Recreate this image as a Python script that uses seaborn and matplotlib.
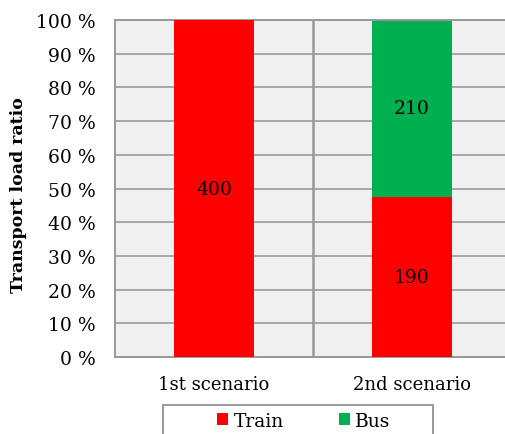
import matplotlib
matplotlib.use("Agg")
import matplotlib.pyplot as plt
from matplotlib.patches import Rectangle
import seaborn as sns
import pandas as pd
import numpy as np

scenarios = ["1st scenario", "2nd scenario"]
train = [400, 190]
bus = [0, 210]
yticks = [0, 10, 20, 30, 40, 50, 60, 70, 80, 90, 100]

sns.set_style("white")
plt.rcParams["font.family"] = ["DejaVu Serif"]
plt.rcParams["text.color"] = "black"
plt.rcParams["xtick.color"] = "black"
plt.rcParams["ytick.color"] = "black"

totals = np.array(train) + np.array(bus)
train_pct = np.array(train) / totals * 100
bus_pct = np.array(bus) / totals * 100
df = pd.DataFrame({"scenario": scenarios, "train": train_pct, "total": train_pct + bus_pct})

fig = plt.figure(figsize=(5.05, 4.35), dpi=100)
ax = fig.add_axes([0.2277, 0.177, 0.7843, 0.7747])
ax.set_facecolor("#F0F0F0")

grid_c = "#A6A6A6"
for t in yticks:
    ax.axhline(t, color=grid_c, lw=1.4, zorder=0)
ax.axvline(0.5, color="#999999", lw=1.8, zorder=0)

sns.barplot(data=df, x="scenario", y="total", color="#00B050", width=0.4,
            saturation=1, linewidth=0, ax=ax, label="Bus", zorder=2)
sns.barplot(data=df, x="scenario", y="train", color="#FF0000", width=0.4,
            saturation=1, linewidth=0, ax=ax, label="Train", zorder=3)

fs = 13.5
for i in range(len(scenarios)):
    ax.text(i, train_pct[i] / 2, str(train[i]), ha="center", va="center",
            fontsize=fs, color="black", zorder=5)
    if bus[i] > 0:
        ax.text(i, train_pct[i] + bus_pct[i] / 2, str(bus[i]), ha="center",
                va="center", fontsize=fs, color="black", zorder=5)

ax.set_xlim(-0.5, 1.5)
ax.set_ylim(0, 100)
ax.set_yticks(yticks)
ax.set_yticklabels([f"{t} %" for t in yticks], fontsize=fs)
ax.tick_params(axis="x", labelsize=13, pad=13, length=0)
ax.tick_params(axis="y", length=0, pad=14)
ax.set_xlabel("")
ax.set_ylabel("Transport load ratio", fontsize=12.5, fontweight="bold", color="black")
ax.yaxis.set_label_coords(-0.222, 0.484)
for s in ax.spines.values():
    s.set_color("#999999")
    s.set_linewidth(1.4)

handles, labels = ax.get_legend_handles_labels()
order = [labels.index("Train"), labels.index("Bus")]
if ax.get_legend():
    ax.get_legend().remove()

# legend box
fig.patches.append(Rectangle((163 / 505, -0.05), 270 / 505, 1 - 406 / 435 + 0.05,
                             transform=fig.transFigure, facecolor="white",
                             edgecolor="#999999", linewidth=1.4, zorder=0))
leg = fig.legend([handles[k] for k in order], [labels[k] for k in order],
                 loc="upper left", bbox_to_anchor=(217 / 505, 1 - 413 / 435),
                 ncol=2, fontsize=fs, frameon=False,
                 handlelength=0.6, handleheight=0.6,
                 columnspacing=2.9, handletextpad=0.3, borderpad=0,
                 borderaxespad=0)

fig.savefig("out.png", dpi=100)
